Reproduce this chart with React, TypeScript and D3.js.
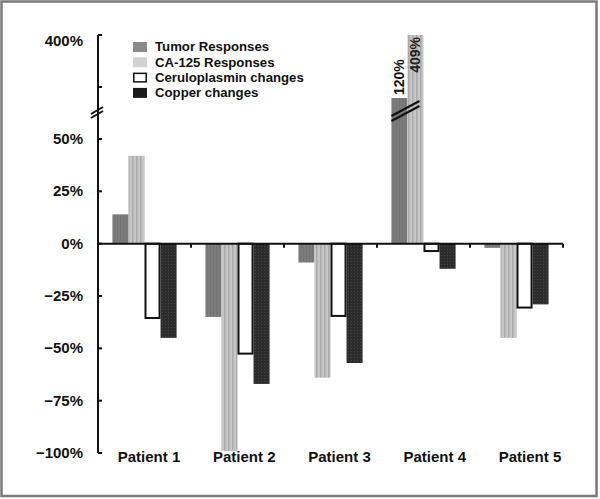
import React from "react";
import * as d3 from "d3";

const patients = ["Patient 1", "Patient 2", "Patient 3", "Patient 4", "Patient 5"];
const seriesNames = ["Tumor Responses", "CA-125 Responses", "Ceruloplasmin changes", "Copper changes"];
const tumor = [14, -35, -9, 120, -2];
const ca125 = [42, -99, -64, 409, -45];
const cerulo = [-36, -53, -35, -4, -31];
const copper = [-45, -67, -57, -12, -29];
const yTicks = [400, 200, 50, 25, 0, -25, -50, -75, -100];
const labeledTicks = [400, 50, 25, 0, -25, -50, -75, -100];

const W = 600;
const H = 499;
const FONT = "'Liberation Sans', Arial, Helvetica, sans-serif";

export default function App() {
  const axisX = 98;
  const x = d3.scaleBand<string>().domain(patients).range([axisX, 563]).paddingInner(0.31).paddingOuter(0.155);
  const xs = d3.scaleBand<string>().domain(seriesNames).range([0, x.bandwidth()]);
  const labelX = d3.scalePoint<string>().domain(patients).range([149, 530]);
  const y = d3.scaleLinear().domain([-100, 50, 120, 200, 400]).range([453, 139, 98, 87, 35]).clamp(true);
  const y0 = y(0);
  const values = [tumor, ca125, cerulo, copper];
  const fills = ["url(#pTumor)", "url(#pCA)", "#ffffff", "url(#pCu)"];
  const legendFills = ["#8a8a8a", "#d2d2d2", "#ffffff", "#1a1a1a"];
  const fmt = (v: number) => (v < 0 ? "\u2212" + Math.abs(v) : String(v)) + "%";
  const stepX = x.step();

  const bars: React.ReactNode[] = [];
  patients.forEach((p, i) => {
    values.forEach((arr, s) => {
      const v = arr[i];
      const bx = (x(p) as number) + (xs(seriesNames[s]) as number);
      const top = Math.min(y(v), y0);
      const h = Math.abs(y(v) - y0);
      if (s === 2) {
        bars.push(
          <rect key={`${i}-${s}`} x={bx + 1} y={top} width={xs.bandwidth() - 2} height={h - 1} fill="#fff" stroke="#111" strokeWidth={2} />
        );
      } else {
        bars.push(<rect key={`${i}-${s}`} x={bx} y={top} width={xs.bandwidth()} height={h} fill={fills[s]} />);
      }
    });
  });

  // break marks on patient 4 big bars
  const p4 = patients[3];
  const bx0 = (x(p4) as number);
  const bx1 = bx0 + 2 * xs.bandwidth();

  return (
    <svg width={W} height={H} style={{ position: "absolute", left: 0, top: 0, display: "block" }} fontFamily={FONT}>
      <defs>
        <pattern id="pTumor" width="3" height="3" patternUnits="userSpaceOnUse">
          <rect width="3" height="3" fill="#7c7c7c" />
          <rect width="1" height="3" fill="#747474" />
        </pattern>
        <pattern id="pCA" width="4" height="4" patternUnits="userSpaceOnUse">
          <rect width="4" height="4" fill="#c6c6c6" />
          <rect x="0" width="1.5" height="4" fill="#aaaaaa" />
        </pattern>
        <pattern id="pCu" width="3" height="3" patternUnits="userSpaceOnUse">
          <rect width="3" height="3" fill="#2c2c2c" />
          <rect width="1" height="1" fill="#444" />
        </pattern>
      </defs>
      <rect x={0} y={0} width={W} height={H} fill="#fff" />
      <rect x={1.5} y={1.5} width={595} height={494.5} fill="none" stroke="#7a7a7a" strokeWidth={2.5} />

      {bars}

      {/* break marks on big bars */}
      <g stroke="#111" strokeWidth={2.2}>
        <line x1={bx0} y1={y(120) + 18} x2={bx1 - 4} y2={y(120) + 3} />
        <line x1={bx0} y1={y(120) + 23} x2={bx1 - 4} y2={y(120) + 8} />
      </g>
      <text transform={`translate(${bx0 + xs.bandwidth() / 2 + 5},${y(120) - 3}) rotate(-90)`} fontSize={14} fontWeight="bold" fill="#111">
        {fmt(tumor[3])}
      </text>
      <text transform={`translate(${bx0 + xs.bandwidth() * 1.5 + 5},${y(409) + 2}) rotate(-90)`} textAnchor="end" fontSize={14} fontWeight="bold" fill="#222">
        {fmt(ca125[3])}
      </text>

      {/* y axis */}
      <line x1={axisX} y1={y(400)} x2={axisX} y2={y(-100)} stroke="#111" strokeWidth={2} />
      {yTicks.map((t) => (
        <line key={t} x1={axisX} x2={axisX + 4} y1={y(t)} y2={y(t)} stroke="#111" strokeWidth={2} />
      ))}
      {labeledTicks.map((t) => (
        <text key={t} x={83} y={y(t) + (t === 400 ? 7 : 1)} textAnchor="end" dominantBaseline="middle" fontSize={15} fontWeight="bold" fill="#111">
          {fmt(t)}
        </text>
      ))}
      {/* axis break */}
      <g stroke="#111" strokeWidth={2}>
        <line x1={axisX - 7} y1={114} x2={axisX + 5} y2={107} />
        <line x1={axisX - 7} y1={118} x2={axisX + 5} y2={111} />
      </g>

      {/* x axis */}
      <line x1={axisX} y1={y0} x2={563} y2={y0} stroke="#111" strokeWidth={2} />
      {patients.map((p, i) => (
        <line key={p} x1={axisX + stepX * (i + 1)} x2={axisX + stepX * (i + 1)} y1={y0} y2={y0 + 4} stroke="#111" strokeWidth={2} />
      ))}
      {patients.map((p) => (
        <text key={p} x={labelX(p)} y={458} textAnchor="middle" dominantBaseline="middle" fontSize={15} fontWeight="bold" fill="#111">
          {p}
        </text>
      ))}

      {/* legend */}
      {seriesNames.map((n, i) => (
        <g key={n} transform={`translate(133,${47 + i * 15.3})`}>
          <rect x={i === 2 ? 0.75 : 0} y={i === 2 ? -4.25 : -5} width={i === 2 ? 12.5 : 14} height={i === 2 ? 8.5 : 10} fill={legendFills[i]} stroke={i === 2 ? "#111" : "none"} strokeWidth={1.5} />
          <text x={22} y={1} dominantBaseline="middle" fontSize={13.2} fontWeight="bold" fill="#111">
            {n}
          </text>
        </g>
      ))}
    </svg>
  );
}
